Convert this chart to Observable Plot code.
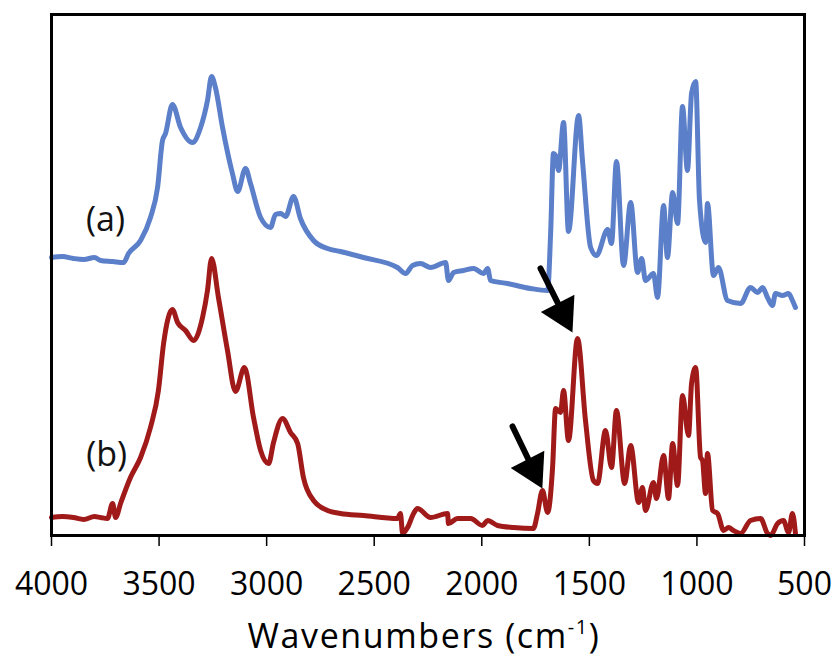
<!DOCTYPE html>
<html>
<head>
<meta charset="utf-8">
<script src="https://cdn.jsdelivr.net/npm/d3@7"></script>
<script src="https://cdn.jsdelivr.net/npm/@observablehq/plot@0.6"></script>
<style>
  html, body { margin: 0; padding: 0; background: #fff; }
  #chart svg { display: block; }
</style>
</head>
<body>
<div id="chart"></div>
<script>
// FTIR spectra, absorbance in arbitrary units (spectrum a is offset upward)
const wavenumbersA = [4000, 3950, 3898, 3850, 3800, 3772, 3716, 3665, 3642, 3586, 3540, 3507, 3484, 3470, 3438, 3400, 3345, 3307, 3275, 3256, 3238, 3205, 3159, 3135, 3098, 3075, 3028, 2982, 2959, 2935, 2912, 2875, 2843, 2782, 2717, 2657, 2550, 2392, 2354, 2322, 2285, 2238, 2168, 2155, 2131, 2085, 2038, 1992, 1973, 1959, 1880, 1773, 1694, 1680, 1667, 1657, 1643, 1620, 1597, 1550, 1532, 1494, 1467, 1415, 1397, 1374, 1341, 1308, 1276, 1257, 1239, 1202, 1183, 1155, 1137, 1113, 1090, 1067, 1044, 1025, 1006, 988, 960, 951, 923, 900, 858, 797, 751, 718, 695, 672, 649, 635, 602, 574, 556, 542];
const absorbanceA = [2.78, 2.79, 2.77, 2.76, 2.78, 2.75, 2.74, 2.73, 2.82, 2.95, 3.18, 3.48, 3.95, 4.02, 4.31, 4.08, 3.93, 4.08, 4.35, 4.59, 4.48, 4.08, 3.62, 3.44, 3.67, 3.52, 3.18, 3.08, 3.21, 3.22, 3.19, 3.39, 3.17, 2.95, 2.87, 2.84, 2.78, 2.68, 2.62, 2.70, 2.72, 2.68, 2.73, 2.55, 2.63, 2.65, 2.67, 2.62, 2.67, 2.55, 2.52, 2.47, 2.45, 3.02, 3.82, 3.80, 3.65, 4.13, 3.04, 4.20, 3.75, 2.88, 2.80, 3.06, 2.92, 3.74, 2.70, 3.33, 2.63, 2.77, 2.55, 2.62, 2.38, 3.30, 2.78, 3.43, 3.12, 4.29, 3.65, 4.42, 4.54, 3.35, 2.93, 3.32, 2.60, 2.68, 2.35, 2.32, 2.48, 2.43, 2.48, 2.38, 2.30, 2.42, 2.40, 2.42, 2.35, 2.28];

const wavenumbersB = [4000, 3950, 3898, 3850, 3800, 3772, 3740, 3716, 3702, 3679, 3633, 3586, 3540, 3503, 3479, 3438, 3414, 3377, 3340, 3298, 3275, 3256, 3224, 3182, 3145, 3103, 3061, 3028, 2991, 2968, 2926, 2889, 2856, 2829, 2782, 2717, 2657, 2550, 2392, 2378, 2368, 2345, 2317, 2299, 2238, 2159, 2155, 2113, 2052, 1997, 1973, 1927, 1852, 1760, 1741, 1718, 1694, 1671, 1657, 1634, 1620, 1597, 1555, 1518, 1481, 1462, 1425, 1397, 1374, 1336, 1308, 1271, 1253, 1239, 1202, 1188, 1155, 1132, 1113, 1090, 1067, 1039, 1025, 1006, 983, 974, 960, 951, 927, 904, 876, 853, 830, 797, 751, 704, 672, 658, 625, 598, 574, 556, 542];
const absorbanceB = [0.18, 0.19, 0.18, 0.16, 0.19, 0.18, 0.17, 0.32, 0.18, 0.32, 0.58, 0.78, 1.08, 1.45, 1.92, 2.26, 2.13, 2.05, 1.95, 2.18, 2.45, 2.77, 2.38, 1.85, 1.44, 1.68, 1.18, 0.85, 0.72, 0.93, 1.17, 1.03, 0.92, 0.58, 0.35, 0.25, 0.22, 0.20, 0.17, 0.22, 0.02, 0.08, 0.22, 0.27, 0.18, 0.22, 0.12, 0.17, 0.17, 0.10, 0.15, 0.10, 0.08, 0.07, 0.22, 0.45, 0.23, 0.68, 1.27, 1.23, 1.45, 0.95, 1.97, 1.15, 0.55, 0.52, 1.05, 0.68, 1.25, 0.52, 0.90, 0.33, 0.48, 0.25, 0.53, 0.37, 0.80, 0.37, 0.92, 0.50, 1.40, 1.00, 1.52, 1.68, 0.78, 0.75, 0.42, 0.82, 0.25, 0.22, 0.05, 0.08, 0.05, 0.02, 0.15, 0.17, 0.02, 0.00, 0.12, 0.15, 0.03, 0.22, 0.02];

const xTicks = [4000, 3500, 3000, 2500, 2000, 1500, 1000, 500];

// spectrum labels
const labelText = ["(a)", "(b)"];
const labelX = [3749, 3744];
const labelY = [3.15, 0.80];

// arrows pointing at the new bands in spectrum b
const arrowTailX = [1727, 1857];
const arrowTailY = [2.67, 1.09];
const arrowTipX = [1578, 1718];
const arrowTipY = [2.03, 0.47];

const specA = d3.zip(wavenumbersA, absorbanceA).map(([x, y]) => ({x, y}));
const specB = d3.zip(wavenumbersB, absorbanceB).map(([x, y]) => ({x, y}));
const labels = labelText.map((t, i) => ({t, x: labelX[i], y: labelY[i]}));
const arrows = arrowTipX.map((x, i) => ({x1: arrowTailX[i], y1: arrowTailY[i], x2: x, y2: arrowTipY[i]}));

const blue = "#5b7fc9";
const red = "#a01a1a";

const chart = Plot.plot({
  width: 837,
  height: 657,
  marginLeft: 51,
  marginRight: 33,
  marginTop: 14,
  marginBottom: 122,
  style: {fontFamily: "'Open Sans', sans-serif", background: "#fff", color: "#000"},
  x: {domain: [4000, 500], axis: null},
  y: {domain: [0, 5.21], axis: null},
  marks: [
    Plot.line(specA, {x: "x", y: "y", stroke: blue, strokeWidth: 5, strokeLinejoin: "round", curve: "monotone-x"}),
    Plot.line(specB, {x: "x", y: "y", stroke: red, strokeWidth: 5, strokeLinejoin: "round", curve: "monotone-x"}),
    Plot.text(labels, {x: "x", y: "y", text: "t", fontSize: 34, fill: "#111"}),
    Plot.arrow(arrows, {x1: "x1", y1: "y1", x2: "x2", y2: "y2", stroke: "#000", strokeWidth: 6, headLength: 0, insetEnd: 18}),
    Plot.dot(arrows, {x: "x2", y: "y2", symbol: "triangle2", r: 18, fill: "#000", stroke: "none", rotate: 153, dx: -10, dy: -19.4}),
    Plot.axisX({ticks: xTicks, tickSize: 11, tickPadding: 26, tickFormat: d3.format("d"), fontSize: 32, strokeWidth: 1.5, label: null, style: {letterSpacing: "1px"}}),
    Plot.frame({stroke: "#000", strokeWidth: 3})
  ]
});

// axis title with a superscript exponent
const svg = d3.select(chart);
const title = svg.append("text")
  .attr("x", 424)
  .attr("y", 648)
  .attr("text-anchor", "middle")
  .attr("font-family", "'Open Sans', sans-serif")
  .attr("font-size", 34)
  .attr("letter-spacing", "1.6px")
  .attr("fill", "#000");
title.append("tspan").text("Wavenumbers (cm");
title.append("tspan").attr("font-size", 20).attr("dy", -14).text("-1");
title.append("tspan").attr("dy", 14).text(")");

document.getElementById("chart").appendChild(chart);
</script>
</body>
</html>
